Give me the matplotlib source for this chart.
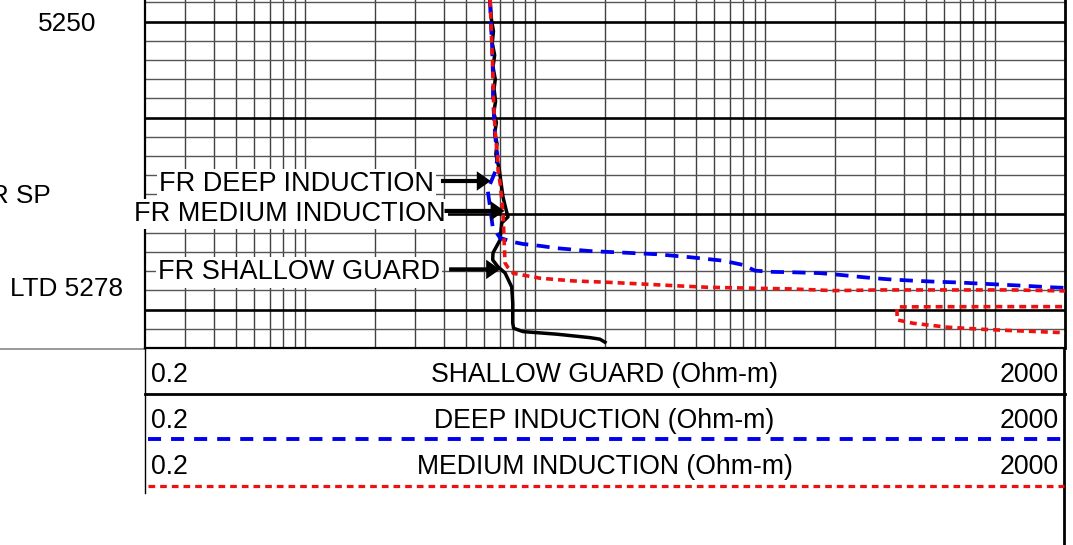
import numpy as np
import matplotlib
matplotlib.use('Agg')
import matplotlib.pyplot as plt
from matplotlib.transforms import blended_transform_factory

plt.rcParams['font.family'] = ['Liberation Sans', 'DejaVu Sans']
plt.rcParams['lines.scale_dashes'] = False

# ---------------- data ----------------
X_MIN, X_MAX = 0.2, 2000
DEPTH_TOP, DEPTH_BOT = 5247.74, 5284.0

shallow_depth = [5247.74, 5249.8, 5251.0, 5252.2, 5253.5, 5254.7, 5256.0, 5257.0, 5258.3,
                 5259.5, 5260.5, 5261.6, 5262.7, 5263.8, 5265.45, 5266.8, 5268.26, 5269.5,
                 5270.34, 5270.97, 5272.74, 5274.09, 5274.82, 5275.55, 5276.18, 5277.64,
                 5279.30, 5281.39, 5281.94, 5282.29, 5282.56, 5282.92, 5283.08, 5283.40]
shallow_val = [6.36, 6.45, 6.58, 6.50, 6.66, 6.55, 6.70, 6.62, 6.72,
               6.60, 6.78, 6.66, 6.82, 6.74, 6.98, 7.10, 7.24, 7.45,
               7.61, 7.15, 7.03, 6.55, 6.53, 6.89, 7.39, 7.90,
               7.98, 7.98, 8.05, 8.84, 12.4, 17.3, 19.1, 20.1]

deep_depth = [5247.74, 5250, 5252, 5254, 5256, 5258, 5260, 5262, 5264, 5265.45,
              5266.49, 5267.53, 5269.30, 5271.39, 5272.53, 5272.95, 5273.16, 5273.36,
              5273.6, 5273.9, 5274.06, 5274.23, 5274.54, 5274.90, 5275.34, 5275.94,
              5276.07, 5276.10, 5276.20, 5276.38, 5276.66, 5276.83, 5276.97, 5277.08,
              5277.18, 5277.29, 5277.39, 5277.53, 5277.67, 5277.75]
deep_val = [6.36, 6.40, 6.48, 6.52, 6.55, 6.55, 6.62, 6.70, 6.85, 6.75,
            6.47, 6.21, 6.36, 6.53, 7.03, 8.00, 8.84, 10.5,
            12.4, 17.3, 24.1, 33.8, 47.1, 65.5, 80.0, 90.2,
            108, 128, 173, 211, 277, 338, 426, 536,
            703, 858, 1049, 1374, 1730, 2100]

medium_depth = [5247.74, 5250, 5252, 5254, 5256, 5258, 5260, 5262, 5264, 5265.45,
                5267.0, 5269.93, 5275.14, 5275.6, 5276.07, 5276.21, 5276.73, 5277.01,
                5277.15, 5277.32, 5277.50, 5277.67, 5277.74, 5277.81, 5277.84, 5278.02,
                5277.95, 5277.95, 5277.95, 5278.05, 5278.10, 5278.30, 5279.50, 5279.68,
                5279.69, 5279.69, 5279.70, 5279.72, 5281.07, 5281.42, 5281.83, 5282.04,
                5282.19, 5282.40, 5282.45]
medium_val = [6.36, 6.42, 6.46, 6.52, 6.55, 6.58, 6.64, 6.72, 6.85, 6.89,
              7.05, 7.24, 7.39, 7.6, 8.00, 8.00, 10.5, 14.6,
              20.5, 28.5, 39.7, 55.8, 77.6, 108, 128, 197,
              315, 617, 1194, 1970, 2200, 20000, 20000, 2200,
              1970, 1194, 617, 374, 374, 439, 617, 858,
              1194, 1970, 2200]

depth_labels = ['5250', 'FR SP', 'LTD 5278']
depth_label_pos = [5250.0, 5267.85, 5277.55]

callout_texts = ['FR DEEP INDUCTION', 'FR MEDIUM INDUCTION', 'FR SHALLOW GUARD']
callout_depth = [5266.6, 5269.72, 5275.81]
callout_text_right = [3.64, 4.10, 3.86]
callout_tail = [3.89, 4.03, 4.22]
callout_tip = [6.40, 7.35, 7.03]

header_titles = ['SHALLOW GUARD (Ohm-m)', 'DEEP INDUCTION (Ohm-m)', 'MEDIUM INDUCTION (Ohm-m)']
header_left = '0.2'
header_right = '2000'

# ---------------- figure ----------------
W, H = 1073, 545
fig = plt.figure(figsize=(W / 100, H / 100), dpi=100)
fig.patch.set_facecolor('white')

L, R, B = 144.5, 1064.5, 348.0
ax = fig.add_axes([L / W, 1 - B / H, (R - L) / W, B / H])
ax.set_xscale('log')
ax.set_xlim(X_MIN, X_MAX)
ax.set_ylim(DEPTH_BOT, DEPTH_TOP)
ax.tick_params(which='both', length=0, labelbottom=False, labelleft=False)
ax.set_xticks([]); ax.set_xticks([], minor=True)
ax.set_yticks([])

# grid
for dec in [0.1, 1, 10, 100, 1000]:
    for k in range(1, 10):
        v = k * dec
        if X_MIN * 1.001 < v < X_MAX * 0.999:
            ax.axvline(v, color='#404040', lw=1.0, zorder=1)
for d in range(5248, 5284, 2):
    if d % 10 == 0:
        ax.axhline(d, color='black', lw=1.9, zorder=1.5)
    else:
        ax.axhline(d, color='#555555', lw=1.0, zorder=1)

ax.spines['top'].set_visible(False)
ax.spines['left'].set_linewidth(1.6)
ax.spines['bottom'].set_linewidth(1.6)
ax.spines['right'].set_linewidth(2.0)

# curves
ax.plot(shallow_val, shallow_depth, color='black', lw=2.5, zorder=3,
        solid_joinstyle='round')
ax.plot(deep_val, deep_depth, color='#0000ee', lw=2.7, ls=(0, (9.5, 6.0)), zorder=4)
ax.plot(medium_val, medium_depth, color='#ee1111', lw=2.6, ls=(0, (5.0, 3.6)), zorder=5)

# callouts
for txt, d, xr, xt, xh in zip(callout_texts, callout_depth, callout_text_right,
                              callout_tail, callout_tip):
    ax.text(xr, d, txt, ha='right', va='center_baseline', fontsize=19.5, zorder=10,
            clip_on=False,
            bbox=dict(facecolor='white', edgecolor='none', pad=1.5))
    ax.annotate('', xy=(xh, d), xytext=(xt, d), zorder=11,
                arrowprops=dict(arrowstyle='simple,head_length=1.0,head_width=1.4,tail_width=0.3',
                                mutation_scale=10, color='black', lw=0,
                                shrinkA=0, shrinkB=0))

# depth labels (left of track)
tr = blended_transform_factory(fig.transFigure, ax.transData)
for lab, d in zip(depth_labels, depth_label_pos):
    if lab == 'FR SP':
        ax.text(51 / W, d, lab, transform=tr, ha='right', va='center_baseline',
                fontsize=18.8, clip_on=False)
    else:
        ax.text(67 / W, d, lab, transform=tr, ha='center', va='center_baseline',
                fontsize=18.8, clip_on=False)

# ---------------- header (pixel coords overlay) ----------------
hx = fig.add_axes([0, 0, 1, 1], zorder=-1)
hx.set_xlim(0, W)
hx.set_ylim(H, 0)
hx.axis('off')

hx.plot([0, L], [B + 0.5, B + 0.5], color='#888888', lw=1.2)
hx.plot([L, L], [B, 493], color='black', lw=1.0)
hx.plot([R - 0.5, R - 0.5], [B, H], color='black', lw=2.0)
hx.plot([L, R], [393.5, 393.5], color='black', lw=2.0)
hx.plot([148, R - 1], [439, 439], color='#0000ee', lw=2.8, ls=(0, (9.4, 7.2)))
hx.plot([148, R - 1], [486, 486], color='#ee1111', lw=2.3, ls=(0, (4.8, 3.6)))

row_y = [372.5, 418, 464]
for title, y in zip(header_titles, row_y):
    hx.text(150.5, y, header_left, ha='left', va='center_baseline', fontsize=19.2)
    hx.text((L + R) / 2, y, title, ha='center', va='center_baseline', fontsize=19.2)
    hx.text(1058.5, y, header_right, ha='right', va='center_baseline', fontsize=19.2)

fig.savefig('out.png', dpi=100, facecolor='white')
